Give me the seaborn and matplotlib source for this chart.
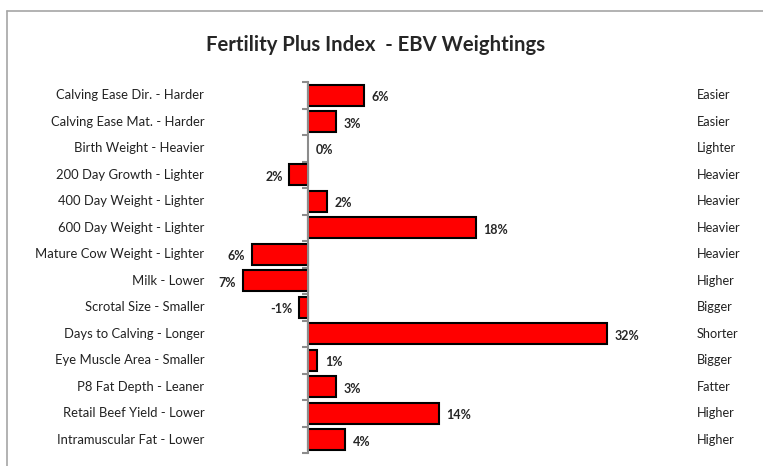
import matplotlib
matplotlib.use("Agg")
import matplotlib.pyplot as plt
from matplotlib.lines import Line2D
import seaborn as sns
import pandas as pd
import numpy as np

# traits (left side = unfavourable direction), right side = favourable direction
traits = ["Calving Ease Dir. - Harder", "Calving Ease Mat. - Harder", "Birth Weight - Heavier",
          "200 Day Growth - Lighter", "400 Day Weight - Lighter", "600 Day Weight - Lighter",
          "Mature Cow Weight - Lighter", "Milk - Lower", "Scrotal Size - Smaller",
          "Days to Calving - Longer", "Eye Muscle Area - Smaller", "P8 Fat Depth - Leaner",
          "Retail Beef Yield - Lower", "Intramuscular Fat - Lower"]
favourable = ["Easier", "Easier", "Lighter", "Heavier", "Heavier", "Heavier", "Heavier",
              "Higher", "Bigger", "Shorter", "Bigger", "Fatter", "Higher", "Higher"]
weights = [6, 3, 0, -2, 2, 18, -6, -7, -1, 32, 1, 3, 14, 4]
value_labels = ["6%", "3%", "0%", "2%", "2%", "18%", "6%", "7%", "-1%", "32%", "1%", "3%", "14%", "4%"]

df = pd.DataFrame({"trait": traits, "weight": weights})

sns.set_style("white")
plt.rcParams["font.family"] = ["Lato", "DejaVu Sans"]

W, H = 763, 466
fig = plt.figure(figsize=(W / 100, H / 100), dpi=100)
ax = fig.add_axes([214.6 / W, (H - 453) / H, 467 / W, 371 / H])

sns.barplot(data=df, x="weight", y="trait", orient="h", color="#ff0000", saturation=1,
            width=0.8, edgecolor="black", linewidth=1.5, ax=ax)
# no outline for the zero bar
for p in ax.patches:
    if p.get_width() == 0:
        p.set_visible(False)

ax.set_xlim(-10, 40)
ax.set_ylim(len(traits) - 0.5, -0.5)
ax.set_xlabel("")
ax.set_ylabel("")

for s in ["top", "right", "bottom"]:
    ax.spines[s].set_visible(False)
ax.spines["left"].set_position(("data", 0))
ax.spines["left"].set_color("#8c8c8c")
ax.spines["left"].set_linewidth(1.5)
ax.set_xticks([])
ax.set_yticks(np.arange(-0.5, len(traits), 1))
ax.set_yticklabels([])
ax.tick_params(axis="y", direction="out", length=4, width=1.5, color="#8c8c8c", left=True)

for i, (t, f, v, lab) in enumerate(zip(traits, favourable, weights, value_labels)):
    ax.text(-11.1, i, t, ha="right", va="center", fontsize=9.4, color="#222222")
    ax.text(41.6, i, f, ha="left", va="center", fontsize=9.2, color="#222222")
    if v >= 0:
        ax.text(v + 0.8, i + 0.08, lab, ha="left", va="center", fontsize=9, fontweight="bold")
    else:
        ax.text(v - 0.7, i + 0.08, lab, ha="right", va="center", fontsize=9, fontweight="bold")

fig.text(376 / W, 1 - 45 / H, "Fertility Plus Index  - EBV Weightings", ha="center", va="center",
         fontsize=14.6, fontweight="bold")

# chart area border (only top/left visible in the crop)
fig.add_artist(Line2D([7 / W, 7 / W], [0, 1 - 11 / H], color="#a6a6a6", lw=1.2))
fig.add_artist(Line2D([7 / W, 1], [1 - 11 / H, 1 - 11 / H], color="#a6a6a6", lw=1.2))

fig.savefig("out.png", dpi=100)
